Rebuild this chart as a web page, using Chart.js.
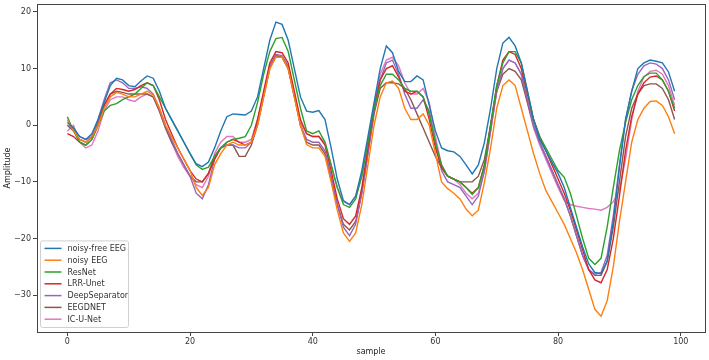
<!DOCTYPE html>
<html>
<head>
<meta charset="utf-8">
<script src="https://cdn.jsdelivr.net/npm/chart.js@4"></script>
<style>
  html, body { margin: 0; padding: 0; background: #fff; }
  #wrap { width: 709px; height: 360px; }
</style>
</head>
<body>
<div id="wrap"><canvas id="myChart"></canvas></div>
<script>
const samples = Array.from({ length: 100 }, (_, i) => i);
const xTicks = [0, 20, 40, 60, 80, 100];
const yTicks = [-30, -20, -10, 0, 10, 20];

const noiseFree = [
  0.5, -0.5, -2, -2.5, -1.5, 1, 4, 7, 8.3, 8, 7, 6.8, 7.8, 8.7, 8.3, 6, 3, 1, -1, -3,
  -5, -6.8, -7.3, -6.5, -4, -1, 1.5, 2, 1.9, 1.8, 2.5, 5, 10, 15, 18.2, 17.8, 15, 10, 5, 2.5,
  2.3, 2.6, 1, -4, -9.5, -13.3, -14, -12.5, -8, -2, 4, 10, 14, 12.8, 9.5, 7.7, 7.7, 8.7, 8, 3.5,
  -1, -4, -4.5, -4.7, -5.5, -7, -8.6, -7, -3, 3, 10, 14.5, 15.5, 14, 11, 6, 1, -2.5, -4.5, -6.5,
  -8.5, -11, -14.5, -18, -21.5, -24.5, -26, -26.2, -24, -17, -7.5, 1, 6, 10, 11, 11.5, 11.3, 11, 9.4, 6
];
const noisy = [
  1, -1, -2.5, -3, -2, 0, 3, 5, 5.8, 5.5, 5, 5, 5.5, 6, 5.3, 3, 0, -2, -4, -6,
  -8, -11, -12.4, -11, -7, -5, -3.5, -3, -3.5, -3.5, -3, 0, 5, 10, 12, 12, 10, 5, 0, -3.4,
  -4, -4, -5.5, -10, -15, -19, -20.5, -19, -14, -7, 0, 5, 7.5, 7.8, 6.5, 3, 1, 1, 2, 0,
  -5, -10, -11.2, -12, -13, -14.8, -16, -15, -10, -4, 3, 7, 8, 7, 3, -1, -5, -8.5, -11.5, -13.5,
  -15.5, -17.5, -20, -22.5, -25.5, -29, -32.5, -33.7, -31, -25, -17, -10, -3, 1, 3, 4.2, 4.3, 3.5, 1.5, -1.5
];
const resNet = [
  1.5, -1, -3, -3.5, -2.5, 0, 2.5, 3.5, 3.8, 4.5, 5, 5.5, 6.5, 7.5, 7, 5, 3, 1, -1, -3,
  -5, -7, -7.8, -7.4, -5.5, -4, -3, -2.5, -2.3, -2, 0, 4, 9, 13, 15.3, 15.5, 13, 8, 3, -1,
  -1.5, -1, -3, -7, -11, -14, -14.5, -13, -9, -3, 3, 7, 9, 9, 8, 6.5, 6, 6, 5, 2,
  -3, -7, -9, -9.5, -10, -11, -12.2, -11, -7, 0, 7, 11, 13, 13, 11, 6, 1, -2, -4, -6,
  -8, -9.2, -12, -16, -20, -23.5, -24.6, -23.5, -18, -11, -4.5, 0.5, 4.5, 7, 8.6, 9.2, 9.2, 8, 6, 3
];
const lrrUnet = [
  -1.5, -2, -3, -3.5, -2.5, 0, 3.5, 5.5, 6.5, 6.3, 6, 6.3, 7, 7.5, 7, 4.5, 1, -1.5, -4, -6,
  -8, -9.5, -10, -8.5, -6, -4, -3, -2.5, -3, -3.5, -3, 1, 6, 11, 13, 12.8, 11, 6, 1, -1.5,
  -2, -2, -3.5, -8, -13, -16.5, -17.5, -16, -11, -4, 3, 8, 10, 10.5, 8.5, 6, 5.5, 6, 5, 1,
  -4, -7.5, -9, -9.5, -10, -11, -12, -11, -7, 0, 7, 11.5, 13, 12.5, 10, 5.5, 1, -2, -4.5, -7,
  -9.5, -12, -15, -18.5, -22, -25.5, -27.3, -27.8, -25.5, -20, -12.5, -4.5, 1.5, 5.5, 7.5, 8.5, 8.7, 8, 6, 2.5
];
const deepSeparator = [
  0, -0.5, -2, -2.5, -2, 1, 4.5, 7.5, 8, 7.5, 6.5, 6.5, 6.8, 6.5, 5.5, 3, 0, -2.5, -5, -7,
  -9, -12, -13, -10.5, -6, -4, -3.5, -3.5, -4, -4, -3, 0.5, 5.5, 10.5, 12.5, 12.3, 10.5, 5.5, 0, -2.5,
  -3, -3, -4.5, -9, -14, -18, -19.5, -17.5, -12, -5, 2.5, 8, 11, 11.5, 9, 5.5, 3, 3, 4.5, 2.5,
  -3, -8, -10, -10.5, -11, -12.5, -14, -12.5, -8, -1, 6, 10, 11.5, 11, 9, 4.5, 0, -3, -5.5, -8,
  -10.5, -13, -16, -19.5, -23, -25.5, -26.3, -26, -23, -16, -7, 1, 6, 9, 10.5, 11, 10.8, 10, 8, 4.5
];
const eegdnet = [
  0, -1, -2.5, -3, -2, 0.5, 3.5, 5.5, 6, 5.8, 5.5, 5.5, 5.5, 5.5, 5, 2.5, -0.5, -3, -5, -7,
  -9, -10, -10, -8.5, -5.5, -4, -3.5, -3.5, -5.5, -5.5, -3.5, 0, 5, 10, 12.3, 12, 10, 5, 0, -3,
  -3.5, -3.5, -5, -9.5, -14, -17.5, -18.5, -17, -12, -5, 2, 6.5, 7.5, 7.5, 7.3, 6.5, 4.5, 2, -0.5, -3,
  -5.5, -7.5, -9, -9.5, -10, -10, -10, -9, -6, 0, 6, 9, 10, 9.5, 8, 4, 0, -3, -5.5, -8,
  -10.5, -13, -16, -19.5, -23, -25.5, -26.5, -26.5, -24, -18, -10, -2, 3, 5.5, 7, 7.3, 7.3, 6.5, 4.5, 1
];
const icUNet = [
  -1, 0, -3, -4, -3.5, -1, 2.5, 4.5, 5, 5, 4.5, 4.2, 5, 5.5, 5, 2.5, -0.5, -3, -5.5, -7.5,
  -9, -10.5, -11, -9, -5, -3, -2, -2, -3, -3, -2.5, 1, 5.5, 10.5, 12.3, 12, 10, 5.5, 0.5, -1.5,
  -2, -2, -3, -7, -11, -13.5, -14, -12.5, -9, -3, 3.5, 9, 11.5, 12, 10.5, 7.5, 5.5, 5.5, 6.5, 4,
  -2, -7, -9, -9.5, -10.5, -12, -13, -12, -8, -1, 6, 10, 11.5, 11, 9, 4, -0.5, -3.5, -6, -8.5,
  -11, -13.3, -14, -14.3, -14.5, -14.7, -14.8, -15, -14.5, -13.5, -11.5, -6, 1, 6, 8.5, 9.5, 9.7, 9, 7, 3.5
];

const seriesNames = ['noisy-free EEG', 'noisy EEG', 'ResNet', 'LRR-Unet', 'DeepSeparator', 'EEGDNET', 'IC-U-Net'];
const seriesData = [noiseFree, noisy, resNet, lrrUnet, deepSeparator, eegdnet, icUNet];
const colors = ['#1f77b4', '#ff7f0e', '#2ca02c', '#d62728', '#9467bd', '#8c564b', '#e377c2'];

const minus = v => String(v).replace('-', '\u2212');

// frame round the plot area (matplotlib spines)
const framePlugin = {
  id: 'frame',
  afterDatasetsDraw(chart) {
    const { ctx, chartArea: a } = chart;
    ctx.save();
    ctx.strokeStyle = '#444';
    ctx.lineWidth = 1;
    ctx.strokeRect(Math.round(a.left) + 0.5, Math.round(a.top) + 0.5,
      Math.round(a.right - a.left), Math.round(a.bottom - a.top));
    ctx.restore();
  }
};

// legend box in the lower left corner, inside the axes
const legendPlugin = {
  id: 'boxLegend',
  afterDraw(chart) {
    const { ctx, chartArea: a } = chart;
    const sets = chart.data.datasets;
    const rowH = 11.8;
    const w = 88, h = sets.length * rowH + 4;
    const x0 = a.left + 3.5, y0 = a.bottom - 4.5 - h;
    ctx.save();
    ctx.fillStyle = 'rgba(255,255,255,0.85)';
    ctx.strokeStyle = '#d0d0d0';
    ctx.lineWidth = 1;
    ctx.beginPath();
    ctx.roundRect(x0, y0, w, h, 2);
    ctx.fill();
    ctx.stroke();
    ctx.font = '8px "DejaVu Sans", sans-serif';
    ctx.textBaseline = 'middle';
    ctx.fillStyle = '#333';
    sets.forEach((ds, k) => {
      const y = y0 + 7.5 + k * rowH;
      ctx.strokeStyle = ds.borderColor;
      ctx.lineWidth = 1.5;
      ctx.beginPath();
      ctx.moveTo(x0 + 4, y);
      ctx.lineTo(x0 + 21, y);
      ctx.stroke();
      ctx.fillText(ds.label, x0 + 27, y + 0.5);
    });
    ctx.restore();
  }
};

const ctx = document.getElementById('myChart').getContext('2d');
const chart = new Chart(ctx, {
  type: 'line',
  data: {
    labels: samples,
    datasets: seriesData.map((vals, k) => ({
      label: seriesNames[k],
      data: vals.map((v, i) => ({ x: samples[i], y: v })),
      borderColor: colors[k],
      backgroundColor: colors[k],
      borderWidth: 1.4,
      pointRadius: 0,
      tension: 0,
      fill: false
    }))
  },
  options: {
    responsive: true,
    maintainAspectRatio: false,
    animation: false,
    layout: { padding: { left: 0, right: 4, top: 4, bottom: 0 } },
    plugins: {
      legend: { display: false },
      tooltip: { enabled: false }
    },
    scales: {
      x: {
        type: 'linear',
        min: -4.95,
        max: 103.95,
        afterBuildTicks: s => { s.ticks = xTicks.map(v => ({ value: v })); },
        afterFit: s => { s.height = 28; s.paddingLeft = 0; s.paddingRight = 0; },
        border: { display: false },
        grid: { drawOnChartArea: false, tickLength: 4, color: '#444' },
        ticks: { font: { size: 8, family: 'DejaVu Sans' }, color: '#333', padding: 1, maxRotation: 0 },
        title: { display: true, text: 'sample', font: { size: 8, family: 'DejaVu Sans' }, color: '#222', padding: { top: 0, bottom: 3 } }
      },
      y: {
        min: -36.5,
        max: 21.4,
        afterBuildTicks: s => { s.ticks = yTicks.map(v => ({ value: v })); },
        afterFit: s => { s.width = 37; s.paddingTop = 0; s.paddingBottom = 0; },
        border: { display: false },
        grid: { drawOnChartArea: false, tickLength: 4, color: '#444' },
        ticks: { font: { size: 8, family: 'DejaVu Sans' }, color: '#333', padding: 2, callback: v => minus(v) },
        title: { display: true, text: 'Amplitude', font: { size: 8, family: 'DejaVu Sans' }, color: '#222', padding: { top: 3, bottom: 0 } }
      }
    }
  },
  plugins: [framePlugin, legendPlugin]
});
</script>
</body>
</html>
